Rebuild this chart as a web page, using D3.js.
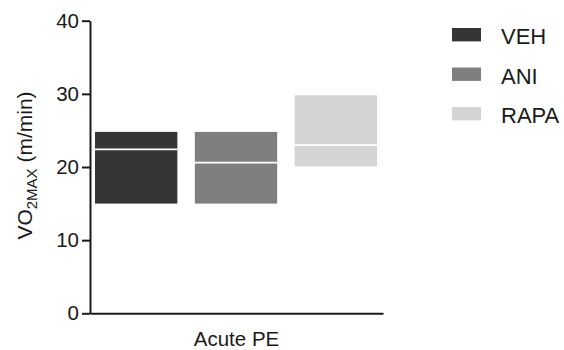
<!DOCTYPE html>
<html>
<head>
<meta charset="utf-8">
<script src="https://cdn.jsdelivr.net/npm/d3@7"></script>
<style>
  html, body { margin: 0; padding: 0; background: #fff; }
  svg { display: block; font-family: "Liberation Sans", Arial, Helvetica, sans-serif; }
</style>
</head>
<body>
<svg id="chart" width="564" height="350"></svg>
<script>
// Floating bars (min to max) with a median line, one group per condition
const groups = ["Acute PE"];
const series = ["VEH", "ANI", "RAPA"];
const minValues = [15.0, 15.0, 20.1];
const maxValues = [24.8, 24.8, 29.8];
const medianValues = [22.4, 20.6, 23.0];
const yTicks = [0, 10, 20, 30, 40];
const colors = ["#353535", "#7f7f7f", "#d4d4d4"];

const rows = series.map((s, i) => ({
  group: groups[0], series: s, min: minValues[i], max: maxValues[i], median: medianValues[i]
}));

const svg = d3.select("#chart");
const plot = { left: 90, right: 383, top: 20.7, bottom: 313.3 };

const y = d3.scaleLinear().domain([0, 40]).range([plot.bottom, plot.top]);
const x0 = d3.scaleBand().domain(groups).range([plot.left, plot.right]).paddingInner(0).paddingOuter(0);
const x1 = d3.scaleBand().domain(series)
  .range([5, x0.bandwidth() - 6]).paddingInner(0.175).paddingOuter(0);
const color = d3.scaleOrdinal().domain(series).range(colors);

// bars
const g = svg.append("g");
g.selectAll("rect.bar").data(rows).join("rect")
  .attr("class", "bar")
  .attr("x", d => x0(d.group) + x1(d.series))
  .attr("width", x1.bandwidth())
  .attr("y", d => y(d.max))
  .attr("height", d => y(d.min) - y(d.max))
  .attr("fill", d => color(d.series));

// median lines
g.selectAll("line.median").data(rows).join("line")
  .attr("class", "median")
  .attr("x1", d => x0(d.group) + x1(d.series))
  .attr("x2", d => x0(d.group) + x1(d.series) + x1.bandwidth())
  .attr("y1", d => y(d.median))
  .attr("y2", d => y(d.median))
  .attr("stroke", "#fff")
  .attr("stroke-width", 1.8);

// y axis
const yAxis = svg.append("g")
  .attr("transform", `translate(${plot.left},0)`)
  .call(d3.axisLeft(y).tickValues(yTicks).tickSize(8).tickPadding(3).tickSizeOuter(0));
yAxis.select(".domain").attr("stroke", "#1a1a1a").attr("stroke-width", 2);
yAxis.selectAll(".tick line").attr("stroke", "#1a1a1a").attr("stroke-width", 2);
yAxis.selectAll(".tick text").attr("font-size", 20.5).attr("fill", "#1a1a1a")
  .attr("font-family", "Liberation Sans, Arial, sans-serif");

// x axis (baseline only)
const xAxis = svg.append("g")
  .attr("transform", `translate(0,${plot.bottom})`)
  .call(d3.axisBottom(x0).tickSize(0).tickPadding(0).tickSizeOuter(0));
xAxis.select(".domain").attr("stroke", "#1a1a1a").attr("stroke-width", 2);
xAxis.selectAll(".tick text")
  .attr("font-size", 20.5).attr("fill", "#1a1a1a")
  .attr("font-family", "Liberation Sans, Arial, sans-serif")
  .attr("dy", null).attr("y", 33);

// y axis title with subscript
const yTitle = svg.append("text")
  .attr("transform", `translate(32,${(88 + 243) / 2}) rotate(-90)`)
  .attr("text-anchor", "middle")
  .attr("font-size", 21)
  .attr("fill", "#1a1a1a");
yTitle.append("tspan").text("VO");
yTitle.append("tspan").text("2MAX").attr("font-size", 15).attr("dy", 5);
yTitle.append("tspan").text(" (m/min)").attr("dy", -5);

// legend
const legend = svg.append("g").attr("transform", "translate(452,28)");
const item = legend.selectAll("g").data(series).join("g")
  .attr("transform", (d, i) => `translate(0,${i * 39.5})`);
item.append("rect")
  .attr("width", 29).attr("height", 13.4)
  .attr("fill", d => color(d));
item.append("text")
  .attr("x", 49).attr("y", 16)
  .attr("font-size", 22)
  .attr("fill", "#1a1a1a")
  .text(d => d);
</script>
</body>
</html>
